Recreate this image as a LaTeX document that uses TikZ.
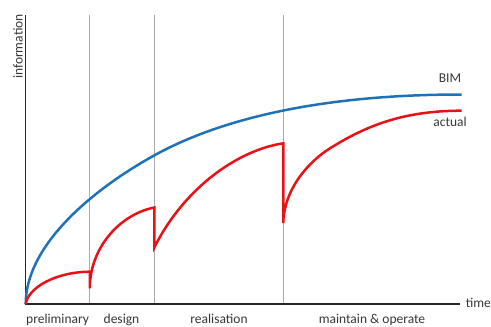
\documentclass[tikz,border=0pt]{standalone}
\usepackage{fontspec}
\setmainfont{Carlito}
\definecolor{bimblue}{RGB}{31,114,183}
\definecolor{actred}{RGB}{232,18,22}
\definecolor{txt}{RGB}{55,55,55}
\definecolor{gridgray}{RGB}{170,170,170}
\begin{document}
\begin{tikzpicture}[x=1pt,y=-1pt,
  lbl/.style={font=\fontsize{13.5}{16}\selectfont, text=txt, inner sep=0pt},
  axisline/.style={draw=black!85, line width=1.3pt},
  phaseline/.style={draw=gridgray, line width=0.9pt},
  curve/.style={line width=2.5pt, line join=miter},
]
\useasboundingbox (0,0) rectangle (491,327);
% coordinates
\coordinate (O) at (25.7,304);
\coordinate (Ytop) at (25.7,15);
\coordinate (Xend) at (459.5,304);
\coordinate (p1b) at (89.8,304);  \coordinate (p1t) at (89.8,15);
\coordinate (p2b) at (154.3,304); \coordinate (p2t) at (154.3,15);
\coordinate (p3b) at (283.3,304); \coordinate (p3t) at (283.3,15);
% phase lines
\draw[phaseline] (p1b) -- (p1t);
\draw[phaseline] (p2b) -- (p2t);
\draw[phaseline] (p3b) -- (p3t);
% axes
\draw[axisline] (Ytop) -- (O) -- (Xend);
% BIM curve
\draw[curve, bimblue] (25.7,304)
  .. controls (25.7,244) and (95,188) .. (155,155)
  .. controls (215,122) and (311.7,94.5) .. (461.7,94.5);
% actual curve
\draw[curve, actred] (25.7,304)
  .. controls (28,288) and (55,272) .. (89.8,271.7)
  -- (89.8,288.3)
  .. controls (89.8,248.3) and (119.3,214.5) .. (154.3,207.5)
  -- (154.3,247.5)
  .. controls (184.3,187.5) and (238.3,150) .. (283.3,143.3)
  -- (283.3,223)
  .. controls (284,188) and (310,160.7) .. (330,148.3)
  .. controls (365,126.6) and (401.7,110.7) .. (461.7,110.7);
% labels
\node[lbl, rotate=90, anchor=east] (info) at (18,14) {information};
\node[lbl, anchor=base west] (time) at (465.7,307.3) {time};
\node[lbl, anchor=base] (bim) at (450,82.5) {BIM};
\node[lbl, anchor=base] (act) at (450,126.5) {actual};
\node[lbl, anchor=base] (prel) at (57.6,323) {preliminary};
\node[lbl, anchor=base] (des) at (121.5,323) {design};
\node[lbl, anchor=base] (real) at (219,323) {realisation};
\node[lbl, anchor=base] (maint) at (372,323.5) {maintain \& operate};
\end{tikzpicture}
\end{document}
